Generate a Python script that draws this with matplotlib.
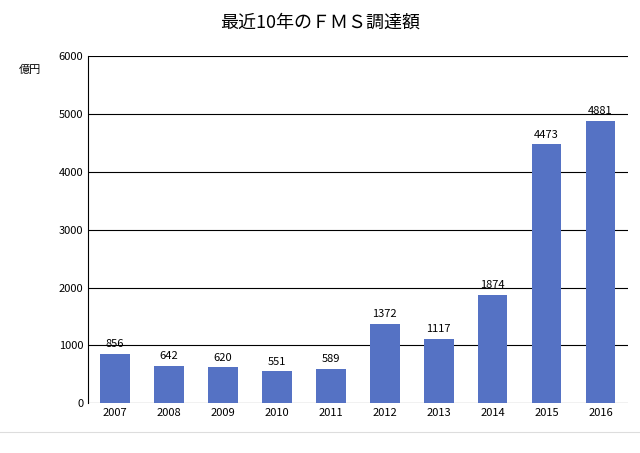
import matplotlib.pyplot as plt

plt.rcParams['font.family'] = ['Noto Sans CJK JP', 'DejaVu Sans']

# --- DATA ---
years = ["2007", "2008", "2009", "2010", "2011", "2012", "2013", "2014", "2015", "2016"]
amounts = [856, 642, 620, 551, 589, 1372, 1117, 1874, 4473, 4881]

BAR_COLOR = "#5572c4"

fig = plt.figure(figsize=(6.4, 4.53), dpi=100)
ax = fig.add_axes([0.1375, 0.110, 0.843, 0.766])

x = range(len(years))
ax.bar(x, amounts, width=0.55, color=BAR_COLOR, zorder=3)
for xi, v in zip(x, amounts):
    ax.text(xi, v + 80, str(v), ha='center', va='bottom', fontsize=8)

ax.set_xticks(list(x))
ax.set_xticklabels(years, fontsize=8)
ax.set_ylim(0, 6000)
ax.set_xlim(-0.5, len(years) - 0.5)
ax.set_yticks(range(0, 6001, 1000))
ax.tick_params(axis='y', labelsize=8, length=0)
ax.tick_params(axis='x', length=0)
ax.grid(True, axis='y', color='black', linewidth=0.8, zorder=0)
for s in ['top', 'right', 'bottom']:
    ax.spines[s].set_visible(False)
ax.spines['left'].set_linewidth(0.8)

fig.text(0.03, 0.84, "億円", fontsize=8)
fig.text(0.5, 0.95, "最近10年のＦＭＳ調達額", ha='center', va='center', fontsize=13)
fig.add_artist(plt.Line2D([0, 1], [0.046, 0.046], color='#dddddd', linewidth=0.8))

fig.savefig("out.png", dpi=100)
